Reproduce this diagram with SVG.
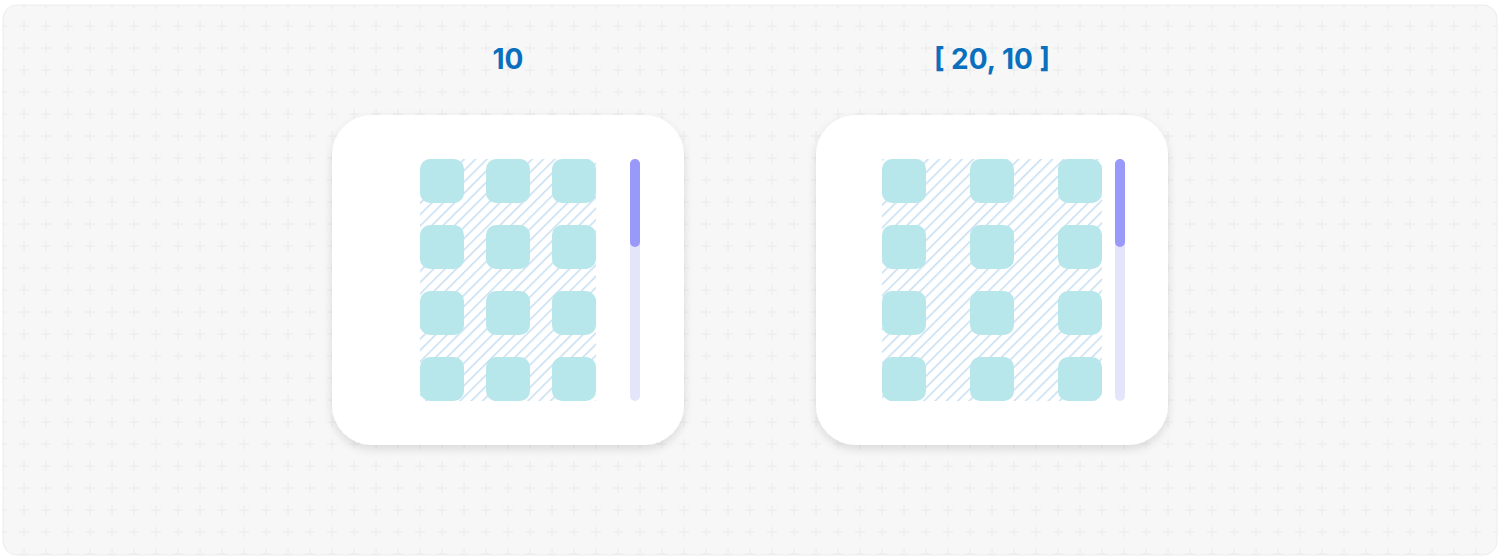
<svg xmlns="http://www.w3.org/2000/svg" width="1500" height="560" viewBox="0 0 1500 560">
  <defs>
    <pattern id="grid" x="13" y="15" width="22" height="22" patternUnits="userSpaceOnUse">
      <path d="M6 11h10M11 6v10" stroke="#eaeaea" stroke-width="1" fill="none"/>
    </pattern>
    <pattern id="hatch" width="8" height="8" patternUnits="userSpaceOnUse" patternTransform="rotate(45)">
      <line x1="0" y1="0" x2="0" y2="8" stroke="#c6def1" stroke-width="3"/>
    </pattern>
    <filter id="shadow" x="-20%" y="-20%" width="140%" height="150%">
      <feDropShadow dx="0" dy="4" stdDeviation="5" flood-color="#000" flood-opacity="0.12"/>
    </filter>
    <clipPath id="frameClip"><rect x="3" y="5" width="1494" height="550" rx="14"/></clipPath>
  </defs>
  <style>
    .tile { fill: #b7e6eb; }
    .card { fill: #ffffff; filter: url(#shadow); }
    .track { fill: #e4e4fb; }
    .thumb { fill: #9999f9; }
    .label { font-family: Inter, "Noto Sans", "Liberation Sans", sans-serif; font-weight: 700; font-size: 28px; fill: #0a6fbd; text-anchor: middle; }
  </style>
  <rect x="0" y="0" width="1500" height="560" fill="#ffffff"/>
  <rect x="3" y="5" width="1494" height="550" rx="14" fill="#f7f7f7" stroke="#ececec" stroke-width="1"/>
  <rect x="3" y="5" width="1494" height="550" fill="url(#grid)" clip-path="url(#frameClip)"/>

  <g id="label-1"><text class="label" x="508" y="69">10</text></g>
  <g id="label-2"><text class="label" x="992" y="69">[ 20, 10 ]</text></g>

  <g id="card-1">
    <rect class="card" x="332" y="115" width="352" height="330" rx="40"/>
    <rect x="420" y="159" width="176" height="242" fill="url(#hatch)"/>
    <rect class="tile" x="420" y="159" width="44" height="44" rx="10"/>
    <rect class="tile" x="486" y="159" width="44" height="44" rx="10"/>
    <rect class="tile" x="552" y="159" width="44" height="44" rx="10"/>
    <rect class="tile" x="420" y="225" width="44" height="44" rx="10"/>
    <rect class="tile" x="486" y="225" width="44" height="44" rx="10"/>
    <rect class="tile" x="552" y="225" width="44" height="44" rx="10"/>
    <rect class="tile" x="420" y="291" width="44" height="44" rx="10"/>
    <rect class="tile" x="486" y="291" width="44" height="44" rx="10"/>
    <rect class="tile" x="552" y="291" width="44" height="44" rx="10"/>
    <rect class="tile" x="420" y="357" width="44" height="44" rx="10"/>
    <rect class="tile" x="486" y="357" width="44" height="44" rx="10"/>
    <rect class="tile" x="552" y="357" width="44" height="44" rx="10"/>
    <rect class="track" x="630" y="159" width="10" height="242" rx="5"/>
    <rect class="thumb" x="630" y="159" width="10" height="88" rx="5"/>
  </g>

  <g id="card-2">
    <rect class="card" x="816" y="115" width="352" height="330" rx="40"/>
    <rect x="882" y="159" width="220" height="242" fill="url(#hatch)"/>
    <rect class="tile" x="882" y="159" width="44" height="44" rx="10"/>
    <rect class="tile" x="970" y="159" width="44" height="44" rx="10"/>
    <rect class="tile" x="1058" y="159" width="44" height="44" rx="10"/>
    <rect class="tile" x="882" y="225" width="44" height="44" rx="10"/>
    <rect class="tile" x="970" y="225" width="44" height="44" rx="10"/>
    <rect class="tile" x="1058" y="225" width="44" height="44" rx="10"/>
    <rect class="tile" x="882" y="291" width="44" height="44" rx="10"/>
    <rect class="tile" x="970" y="291" width="44" height="44" rx="10"/>
    <rect class="tile" x="1058" y="291" width="44" height="44" rx="10"/>
    <rect class="tile" x="882" y="357" width="44" height="44" rx="10"/>
    <rect class="tile" x="970" y="357" width="44" height="44" rx="10"/>
    <rect class="tile" x="1058" y="357" width="44" height="44" rx="10"/>
    <rect class="track" x="1115" y="159" width="10" height="242" rx="5"/>
    <rect class="thumb" x="1115" y="159" width="10" height="88" rx="5"/>
  </g>

  <g id="connectors"></g>
</svg>
